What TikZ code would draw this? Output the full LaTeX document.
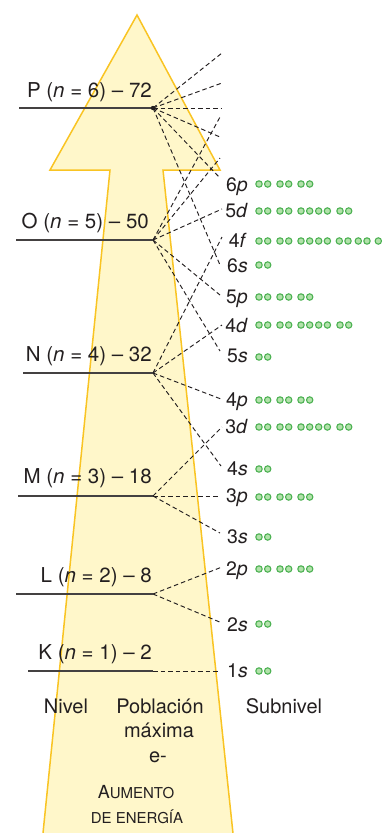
\documentclass[tikz,border=0pt]{standalone}
\usepackage{fontspec}
\setmainfont{TeX Gyre Heros}
\definecolor{arrowfill}{RGB}{255,247,202}
\definecolor{arrowline}{RGB}{249,196,35}
\definecolor{ink}{RGB}{35,31,32}
\definecolor{dotline}{RGB}{78,178,84}
\definecolor{dotin}{RGB}{178,226,170}
\tikzset{
  levelline/.style={draw=ink!85, line width=1.2pt},
  conn/.style={draw=ink, line width=0.95pt, dash pattern=on 4.5pt off 3pt},
  lvltext/.style={font=\fontsize{20.5}{20.5}\selectfont, text=ink, anchor=base east, inner sep=0pt},
  subtext/.style={font=\fontsize{19.5}{19.5}\selectfont, text=ink, anchor=base east, inner sep=0pt},
  headtext/.style={font=\fontsize{20}{24}\selectfont, text=ink, anchor=base, inner sep=0pt},
  eldot/.style={draw=dotline, fill=dotin, line width=1.1pt},
}
\newcommand\epairs[2]{\foreach \ofs in {#2}{\path[eldot] (259+\ofs,#1) circle[radius=3.2pt] (267.7+\ofs,#1) circle[radius=3.2pt];}}
\begin{document}
\begin{tikzpicture}[x=1pt,y=-1pt]
\useasboundingbox (0,0) rectangle (382,833);
% arrow
\path[fill=arrowfill, draw=arrowline, line width=1.5pt, line join=miter]
  (137,15) -- (220,170) -- (163,170) -- (233.7,840) -- (42.3,840) -- (110,170) -- (50,170) -- cycle;

% hubs
\coordinate (hP) at (153,108);
\coordinate (hO) at (153,240);
\coordinate (hN) at (153,373);
\coordinate (hM) at (153,496);
\coordinate (hL) at (153,594);
\coordinate (hK) at (153,671);
% level line starts
\coordinate (sP) at (19,108);
\coordinate (sO) at (16,240);
\coordinate (sN) at (23,373);
\coordinate (sM) at (18,496);
\coordinate (sL) at (16,594);
\coordinate (sK) at (28,671);

% connector ends
\coordinate (e6h) at (222,53);
\coordinate (e6g) at (222,83);
\coordinate (e6f) at (222,108);
\coordinate (e6d) at (220,137);
\coordinate (e6p) at (220,178);
\coordinate (e6s) at (220,265);
\coordinate (e5g) at (220,117);
\coordinate (e5f) at (220,158);
\coordinate (e5d) at (222,209);
\coordinate (e5p) at (220,295);
\coordinate (e5s) at (220,351);
\coordinate (e4f) at (222,237);
\coordinate (e4d) at (222,325);
\coordinate (e4p) at (221,399);
\coordinate (e4s) at (221,466);
\coordinate (e3d) at (222,427);
\coordinate (e3p) at (220,496);
\coordinate (e3s) at (220,533);
\coordinate (e2p) at (222,567);
\coordinate (e2s) at (222,623);
\coordinate (e1s) at (218,671);

% dashed connectors
\foreach \e in {e6h,e6g,e6f,e6d,e6p,e6s} \draw[conn] (hP) -- (\e);
\foreach \e in {e5g,e5f,e5d,e5p,e5s} \draw[conn] (hO) -- (\e);
\foreach \e in {e4f,e4d,e4p,e4s} \draw[conn] (hN) -- (\e);
\foreach \e in {e3d,e3p,e3s} \draw[conn] (hM) -- (\e);
\foreach \e in {e2p,e2s} \draw[conn] (hL) -- (\e);
\draw[conn] (hK) -- (e1s);

% level lines
\draw[levelline] (sP) -- (hP);
\draw[levelline] (sO) -- (hO);
\draw[levelline] (sN) -- (hN);
\draw[levelline] (sM) -- (hM);
\draw[levelline] (sL) -- (hL);
\draw[levelline] (sK) -- (hK);
\fill[ink] (hP) circle[radius=2.2pt];

% level labels
\node[lvltext] (tP) at (152,97) {P (\textit{n} = 6) – 72};
\node[lvltext] (tO) at (149,228) {O (\textit{n} = 5) – 50};
\node[lvltext] (tN) at (152,361) {N (\textit{n} = 4) – 32};
\node[lvltext] (tM) at (152,483) {M (\textit{n} = 3) – 18};
\node[lvltext] (tL) at (152,582) {L (\textit{n} = 2) – 8};
\node[lvltext] (tK) at (152,659) {K (\textit{n} = 1) – 2};

% subshell labels
\node[subtext] (l6p) at (248,191) {6\textit{p}};
\node[subtext] (l5d) at (248,217) {5\textit{d}};
\node[subtext] (l4f) at (247,247) {4\textit{f}};
\node[subtext] (l6s) at (248,272) {6\textit{s}};
\node[subtext] (l5p) at (248,303) {5\textit{p}};
\node[subtext] (l4d) at (248,332) {4\textit{d}};
\node[subtext] (l5s) at (248,362) {5\textit{s}};
\node[subtext] (l4p) at (248,406) {4\textit{p}};
\node[subtext] (l3d) at (248,433) {3\textit{d}};
\node[subtext] (l4s) at (248,475) {4\textit{s}};
\node[subtext] (l3p) at (248,502) {3\textit{p}};
\node[subtext] (l3s) at (248,543) {3\textit{s}};
\node[subtext] (l2p) at (248,575) {2\textit{p}};
\node[subtext] (l2s) at (248,631) {2\textit{s}};
\node[subtext] (l1s) at (248,677) {1\textit{s}};

% electron pairs
\epairs{184}{0,21,42}
\epairs{211}{0,21,42,59.7,81}
\epairs{241}{0,21,42,59.7,80.3,99.3,119.3}
\epairs{265}{0}
\epairs{297}{0,21,42}
\epairs{325}{0,21,42,59.7,81}
\epairs{357}{0}
\epairs{400}{0,21,42}
\epairs{427}{0,21,42,59.7,81}
\epairs{469}{0}
\epairs{497}{0,21,42}
\epairs{537}{0}
\epairs{569}{0,21,42}
\epairs{624}{0}
\epairs{671}{0}

% headers
\node[headtext] (hnivel) at (66,713) {Nivel};
\node[headtext] (hpob) at (160,713) {Población};
\node[headtext] (hmax) at (159,737) {máxima};
\node[headtext] (he) at (158,762) {e-};
\node[headtext] (hsub) at (284,713) {Subnivel};
\node[headtext] (hau) at (136,798) {{\fontsize{18}{18}\selectfont A}{\fontsize{15}{15}\selectfont UMENTO}};
\node[headtext] (hde) at (137,823) {\fontsize{15}{15}\selectfont DE ENERGÍA};
\end{tikzpicture}
\end{document}
